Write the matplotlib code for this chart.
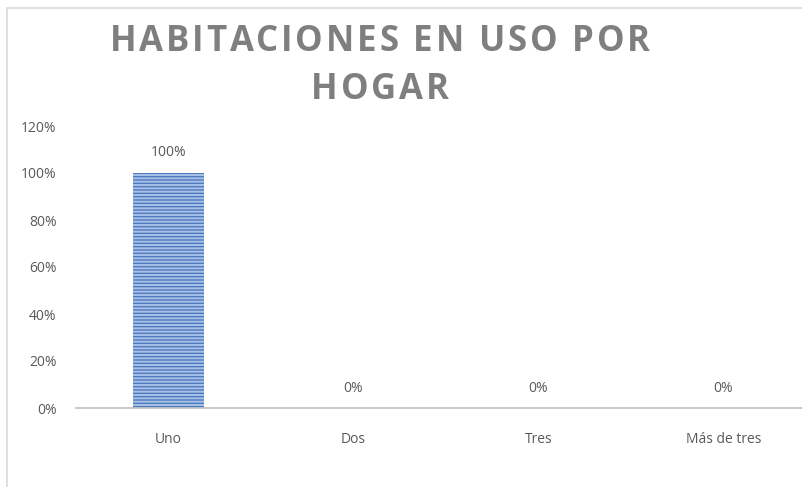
import matplotlib
matplotlib.use("Agg")
import matplotlib.pyplot as plt
from matplotlib.patches import Rectangle

categories = ["Uno", "Dos", "Tres", "Más de tres"]
values = [1.00, 0.00, 0.00, 0.00]
value_labels = ["100%", "0%", "0%", "0%"]
yticks = [0.0, 0.2, 0.4, 0.6, 0.8, 1.0, 1.2]
ytick_labels = ["0%", "20%", "40%", "60%", "80%", "100%", "120%"]
title_lines = ["HABITACIONES EN USO POR", "HOGAR"]

W, H = 803, 487
fig = plt.figure(figsize=(W / 100, H / 100), dpi=100)
fig.patch.set_facecolor("white")

# chart border (left and top visible)
fig.add_artist(Rectangle((7 / W, -0.1), 1.2, (H - 8) / H + 0.1, transform=fig.transFigure,
                         fill=False, edgecolor="#d9d9d9", linewidth=1.2))

ax_left, ax_right = 76, 816
ax_bottom, ax_top = 408, 126
ax = fig.add_axes([ax_left / W, 1 - ax_bottom / H, (ax_right - ax_left) / W, (ax_bottom - ax_top) / H])
ax.set_facecolor("none")

x = list(range(len(categories)))
plt.rcParams["hatch.linewidth"] = 1.4
bars = ax.bar(x, values, width=0.385, color="#4f7bc0", edgecolor="#a9c1e8", hatch="-----", linewidth=0)

ax.set_xlim(-0.5, len(categories) - 0.5)
ax.set_ylim(0, 1.2)
ax.set_yticks(yticks)
ax.set_yticklabels(ytick_labels)
ax.set_xticks(x)
ax.set_xticklabels(categories)

grey = "#595959"
ax.tick_params(axis="y", length=0, pad=14, labelsize=10, labelcolor=grey)
ax.tick_params(axis="x", length=0, pad=17, labelsize=10, labelcolor=grey)
for lab in ax.get_xticklabels() + ax.get_yticklabels():
    lab.set_fontfamily("Open Sans")

for s in ["top", "right", "left"]:
    ax.spines[s].set_visible(False)
ax.spines["bottom"].set_color("#bfbfbf")
ax.spines["bottom"].set_linewidth(1.2)

for xi, v, lab in zip(x, values, value_labels):
    ax.annotate(lab, (xi, v), xytext=(0, 9), textcoords="offset points",
                ha="center", va="bottom", fontsize=10, color=grey, family="Open Sans")

# title with letter spacing
fig.canvas.draw()
renderer = fig.canvas.get_renderer()
centers_y = [42, 90]
cx = 380
target_first = 540.0
tfs = 25
tweight = "bold"


def char_widths(line):
    ws = []
    for ch in line:
        t = fig.text(0, 0, ch if ch != " " else "a", fontsize=tfs, fontweight=tweight,
                     family="Open Sans")
        bb = t.get_window_extent(renderer)
        t.remove()
        ws.append(bb.width if ch != " " else bb.width * 0.45)
    return ws


w0 = char_widths(title_lines[0])
spacing = (target_first - sum(w0)) / (len(title_lines[0]) - 1)
for line, cy in zip(title_lines, centers_y):
    widths = char_widths(line)
    total = sum(widths) + spacing * (len(line) - 1)
    xpos = cx - total / 2
    for ch, w in zip(line, widths):
        if ch != " ":
            fig.text(xpos / W, 1 - cy / H, ch, ha="left", va="center", fontsize=tfs,
                     fontweight=tweight, color="#7f7f7f", family="Open Sans")
        xpos += w + spacing

fig.savefig("out.png", dpi=100, facecolor="white")
